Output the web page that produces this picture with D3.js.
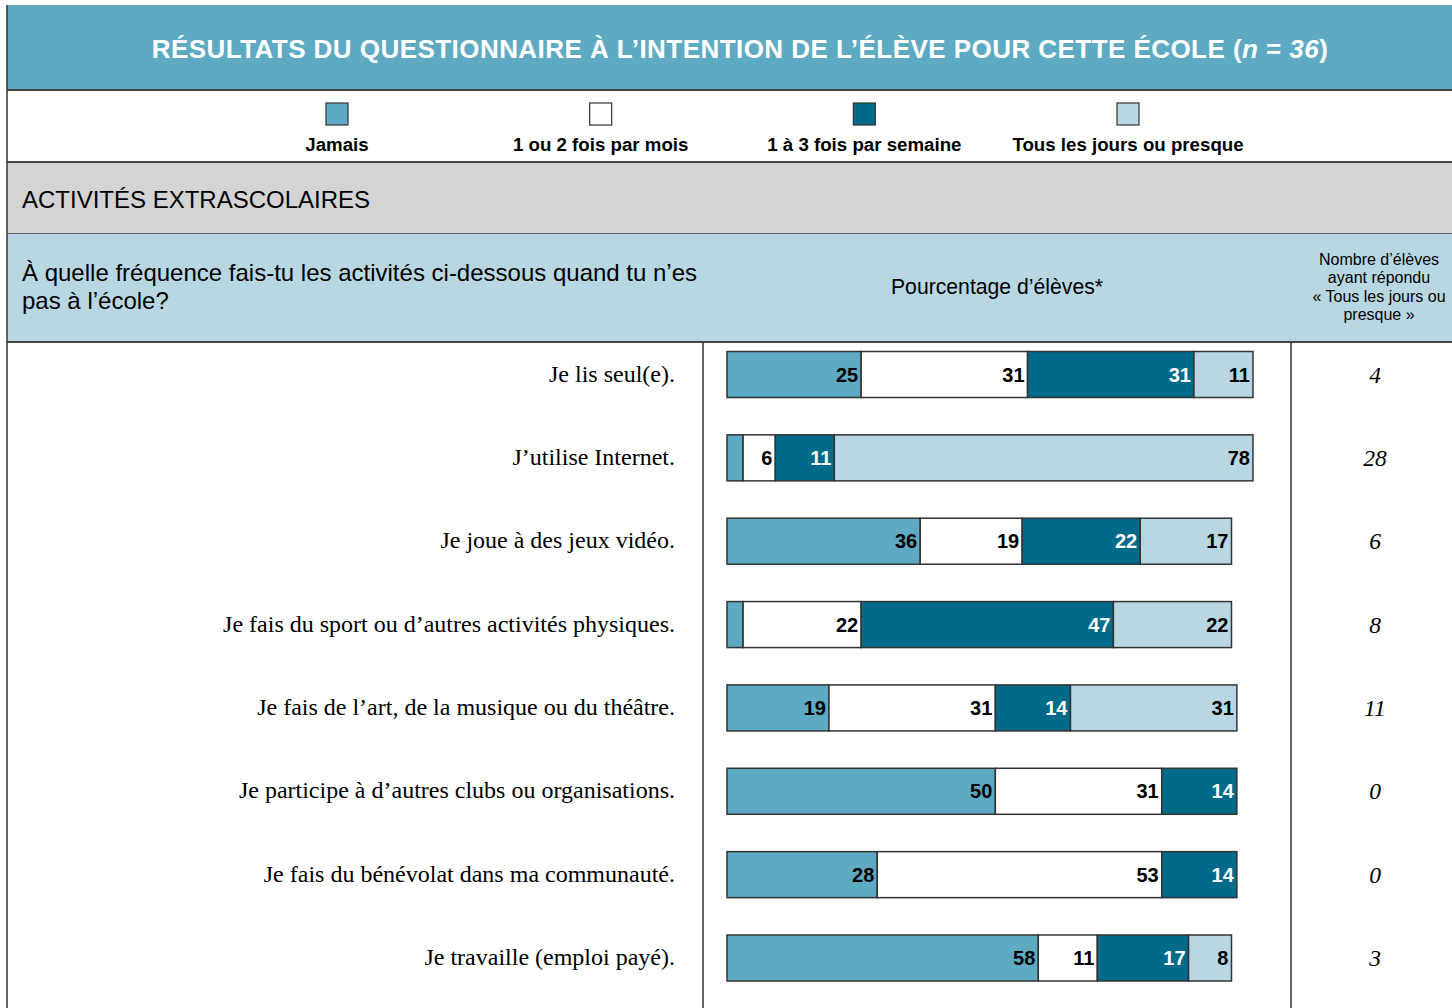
<!DOCTYPE html>
<html>
  <head>
    <meta charset="utf-8" />
    <title>Activités extrascolaires</title>
  </head>

  <style>
    body {
      background: #fff;
      padding: 0px;
      margin: 0px;
      overflow: hidden;
    }
    .sans { font-family: "Liberation Sans", Arial, sans-serif; }
    .serif { font-family: "Liberation Serif", "Times New Roman", serif; }
  </style>

  <body>
    <script src="https://cdn.jsdelivr.net/npm/d3@7"></script>

    <script>

      var categories = ["Jamais", "1 ou 2 fois par mois", "1 à 3 fois par semaine", "Tous les jours ou presque"];
      var colors = ["#5eaac2", "#ffffff", "#006a8a", "#b8d7e2"];
      var labelColors = ["#000", "#000", "#fff", "#000"];

      var activities = [
        "Je lis seul(e).",
        "J\u2019utilise Internet.",
        "Je joue à des jeux vidéo.",
        "Je fais du sport ou d\u2019autres activités physiques.",
        "Je fais de l\u2019art, de la musique ou du théâtre.",
        "Je participe à d\u2019autres clubs ou organisations.",
        "Je fais du bénévolat dans ma communauté.",
        "Je travaille (emploi payé)."
      ];

      var jamais   = [25, 3, 36, 3, 19, 50, 28, 58];
      var parMois  = [31, 6, 19, 22, 31, 31, 53, 11];
      var semaine  = [31, 11, 22, 47, 14, 14, 14, 17];
      var tousJours = [11, 78, 17, 22, 31, 0, 0, 8];
      var nbTousJours = [4, 28, 6, 8, 11, 0, 0, 3];

      var W = 1452, H = 1008;

      var svg = d3.select("body").append("svg")
        .attr("width", W)
        .attr("height", H);

      // title band
      svg.append("rect")
        .attr("x", 7).attr("y", 5)
        .attr("width", W - 7).attr("height", 85)
        .style("fill", "#5eaac2");

      var title = svg.append("text")
        .attr("class", "sans")
        .attr("x", 740).attr("y", 58)
        .attr("text-anchor", "middle")
        .style("font-size", "26px")
        .style("letter-spacing", "0.45px")
        .style("font-weight", "bold")
        .style("fill", "#fff");
      title.append("tspan").text("RÉSULTATS DU QUESTIONNAIRE À L\u2019INTENTION DE L\u2019ÉLÈVE POUR CETTE ÉCOLE (");
      title.append("tspan").style("font-style", "italic").text("n");
      title.append("tspan").text(" = ");
      title.append("tspan").style("font-style", "italic").text("36");
      title.append("tspan").text(")");

      // legend
      var legendX = d3.scalePoint()
        .domain(categories)
        .range([337, 1128]);

      var legend = svg.selectAll(".legend")
        .data(categories)
        .enter().append("g")
          .attr("class", "legend")
          .attr("transform", function(d) { return "translate(" + legendX(d) + ",0)"; });

      legend.append("rect")
        .attr("x", -11).attr("y", 103)
        .attr("width", 22).attr("height", 22)
        .style("fill", function(d, i) { return colors[i]; })
        .style("stroke", "#333")
        .style("stroke-width", 1.2);

      legend.append("text")
        .attr("class", "sans")
        .attr("y", 151)
        .attr("text-anchor", "middle")
        .style("font-size", "18.7px")
        .style("font-weight", "bold")
        .text(function(d) { return d; });

      // section band
      svg.append("rect")
        .attr("x", 7).attr("y", 163)
        .attr("width", W - 7).attr("height", 70)
        .style("fill", "#d4d4d4");

      svg.append("text")
        .attr("class", "sans")
        .attr("x", 22).attr("y", 208)
        .style("font-size", "24px")
        .text("ACTIVITÉS EXTRASCOLAIRES");

      // header band
      svg.append("rect")
        .attr("x", 7).attr("y", 234)
        .attr("width", W - 7).attr("height", 108)
        .style("fill", "#b8d7e2");

      var q = svg.append("text")
        .attr("class", "sans")
        .style("font-size", "24px");
      q.append("tspan").attr("x", 22).attr("y", 281)
        .text("À quelle fréquence fais-tu les activités ci-dessous quand tu n\u2019es");
      q.append("tspan").attr("x", 22).attr("y", 309)
        .text("pas à l\u2019école?");

      svg.append("text")
        .attr("class", "sans")
        .attr("x", 997).attr("y", 294)
        .attr("text-anchor", "middle")
        .style("font-size", "21.2px")
        .text("Pourcentage d\u2019élèves*");

      var rh = svg.append("text")
        .attr("class", "sans")
        .attr("text-anchor", "middle")
        .style("font-size", "16px");
      ["Nombre d\u2019élèves", "ayant répondu", "« Tous les jours ou", "presque »"].forEach(function(t, i) {
        rh.append("tspan").attr("x", 1379).attr("y", 265 + i * 18.4).text(t);
      });

      // grid lines
      var lines = [
        [7, 90, W, 90, 2, "#444"],
        [7, 162, W, 162, 2, "#444"],
        [7, 233.5, W, 233.5, 1, "#666"],
        [7, 342, W, 342, 2, "#444"],
        [7, 5, 7, H, 1.5, "#333"],
        [703, 342, 703, H, 1.5, "#333"],
        [1291, 342, 1291, H, 1.5, "#333"]
      ];
      svg.selectAll(".grid")
        .data(lines)
        .enter().append("line")
          .attr("class", "grid")
          .attr("x1", function(d) { return d[0]; })
          .attr("y1", function(d) { return d[1]; })
          .attr("x2", function(d) { return d[2]; })
          .attr("y2", function(d) { return d[3]; })
          .style("stroke-width", function(d) { return d[4]; })
          .style("stroke", function(d) { return d[5]; });

      // bars
      var xScale = d3.scaleLinear()
        .domain([0, 100])
        .range([727, 1263.7]);

      var yScale = d3.scalePoint()
        .domain(activities)
        .range([374.5, 958]);

      var barH = 46;

      var rows = activities.map(function(a, i) {
        return { activity: a, Jamais: jamais[i], mois: parMois[i], semaine: semaine[i], tous: tousJours[i], n: nbTousJours[i] };
      });

      var keys = ["Jamais", "mois", "semaine", "tous"];
      var stacked = d3.stack().keys(keys)(rows);

      var layers = svg.selectAll(".layer")
        .data(stacked)
        .enter().append("g")
          .attr("class", "layer");

      layers.selectAll("rect")
        .data(function(d) { return d.filter(function(s) { return s[1] - s[0] > 0; }); })
        .enter().append("rect")
          .attr("x", function(d) { return xScale(d[0]); })
          .attr("y", function(d) { return yScale(d.data.activity) - barH / 2; })
          .attr("width", function(d) { return xScale(d[1]) - xScale(d[0]); })
          .attr("height", barH)
          .style("fill", function() { return colors[d3.select(this.parentNode).datum().index]; })
          .style("stroke", "#333")
          .style("stroke-width", 1.5);

      layers.selectAll("text")
        .data(function(d) { return d.filter(function(s) { return s[1] - s[0] >= 5; }); })
        .enter().append("text")
          .attr("class", "sans")
          .attr("x", function(d) { return xScale(d[1]) - 3; })
          .attr("y", function(d) { return yScale(d.data.activity) + 7; })
          .attr("text-anchor", "end")
          .style("font-size", "20px")
          .style("font-weight", "bold")
          .style("fill", function() { return labelColors[d3.select(this.parentNode).datum().index]; })
          .text(function(d) { return d[1] - d[0]; });

      // row labels
      svg.selectAll(".rowlabel")
        .data(rows)
        .enter().append("text")
          .attr("class", "serif rowlabel")
          .attr("x", 675)
          .attr("y", function(d) { return yScale(d.activity) + 7; })
          .attr("text-anchor", "end")
          .style("font-size", "24px")
          .text(function(d) { return d.activity; });

      svg.selectAll(".count")
        .data(rows)
        .enter().append("text")
          .attr("class", "serif count")
          .attr("x", 1375)
          .attr("y", function(d) { return yScale(d.activity) + 8; })
          .attr("text-anchor", "middle")
          .style("font-size", "23.5px")
          .style("font-style", "italic")
          .text(function(d) { return d.n; });

    </script>
  </body>
</html>
